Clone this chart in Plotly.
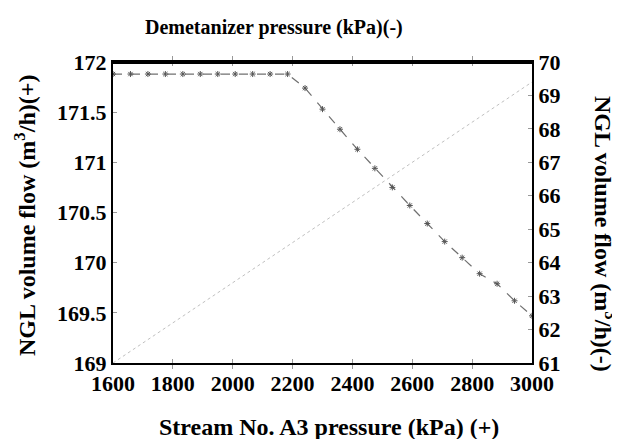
import plotly.graph_objects as go

# Data
stream_pressure = [1600 + i * 1400 / 24 for i in range(25)]
ngl_flow_plus = [171.88, 171.88, 171.88, 171.88, 171.88, 171.88, 171.88, 171.88,
                 171.88, 171.88, 171.88, 171.74, 171.53, 171.33, 171.13, 170.94,
                 170.75, 170.57, 170.39, 170.21, 170.05, 169.89, 169.79, 169.62,
                 169.47]
dotted_x = [1600, 1900, 2200, 2500, 2800, 3000]
ngl_flow_minus = [61.0, 62.8, 64.6, 66.4, 68.2, 69.4]

x_ticks = [1600, 1800, 2000, 2200, 2400, 2600, 2800, 3000]
y_left_ticks = [169, 169.5, 170, 170.5, 171, 171.5, 172]
y_right_ticks = list(range(61, 71))

FONT = "Liberation Serif"

# page offset (browser body margin) compensation
OFF = 8
W, H = 620 - OFF, 439 - OFF
L, R, T, B = 113 - OFF, 88, 62 - OFF, 76
PW, PH = W - L - R, H - T - B

def px(x):
    return (x - OFF - L) / PW

def py(y):
    return (H - B - (y - OFF)) / PH

fig = go.Figure()
fig.add_trace(go.Scatter(
    x=stream_pressure, y=ngl_flow_plus, mode="lines+markers",
    line=dict(color="#707070", width=1.2, dash="dash"),
    marker=dict(symbol="asterisk-open", size=5, color="#555555",
                line=dict(width=1, color="#555555")),
    showlegend=False, yaxis="y"))
fig.add_trace(go.Scatter(
    x=dotted_x, y=ngl_flow_minus, mode="lines",
    line=dict(color="#c0c0c0", width=1, dash="dot"),
    showlegend=False, yaxis="y2"))

tickfont = dict(family=FONT, size=22, color="black", weight=700)
titlefont = dict(family=FONT, size=24, color="black", weight="bold")

def bold(vals, fmt="{:g}"):
    return ["<b>" + fmt.format(v) + "</b>" for v in vals]

fig.update_layout(
    width=W, height=H,
    margin=dict(l=L, r=R, t=T, b=B, autoexpand=False),
    paper_bgcolor="white", plot_bgcolor="white",
    font=dict(family=FONT, color="black"),
    xaxis=dict(range=[1600, 3000], tickvals=x_ticks, ticktext=bold(x_ticks),
               tickfont=tickfont, ticks="inside", ticklen=4, tickcolor="#999999",
               showline=True, linecolor="black", linewidth=2, mirror="allticks",
               showgrid=False, zeroline=False),
    yaxis=dict(range=[169, 172], tickvals=y_left_ticks, ticktext=bold(y_left_ticks),
               tickfont=tickfont, ticks="inside", ticklen=4, tickcolor="#999999",
               showline=True, linecolor="black", linewidth=2,
               showgrid=False, zeroline=False),
    yaxis2=dict(range=[61, 70], tickvals=y_right_ticks, ticktext=bold(y_right_ticks),
                tickfont=tickfont, ticks="inside", ticklen=4, tickcolor="#999999",
                overlaying="y", side="right",
                showline=True, linecolor="black", linewidth=2,
                showgrid=False, zeroline=False),
    shapes=[dict(type="line", xref="paper", yref="paper", x0=0, x1=1,
                 y0=0.997, y1=0.997, line=dict(color="black", width=2))],
    annotations=[
        dict(text="Demetanizer pressure (kPa)(-)", x=px(274), y=py(27),
             font=dict(family=FONT, size=20, color="black", weight="bold")),
        dict(text="Stream No. A3 pressure (kPa) (+)", x=px(329), y=py(427),
             font=titlefont),
        dict(text="NGL volume flow (m<sup>3</sup>/h)(+)", textangle=-90,
             x=px(25), y=py(216), font=titlefont),
        dict(text="NGL volume flow (m<sup>3</sup>/h)(-)", textangle=90,
             x=px(605), y=py(234), font=titlefont),
    ],
)
fig.update_annotations(xref="paper", yref="paper", showarrow=False,
                       xanchor="center", yanchor="middle")

fig.write_html("out.html")
